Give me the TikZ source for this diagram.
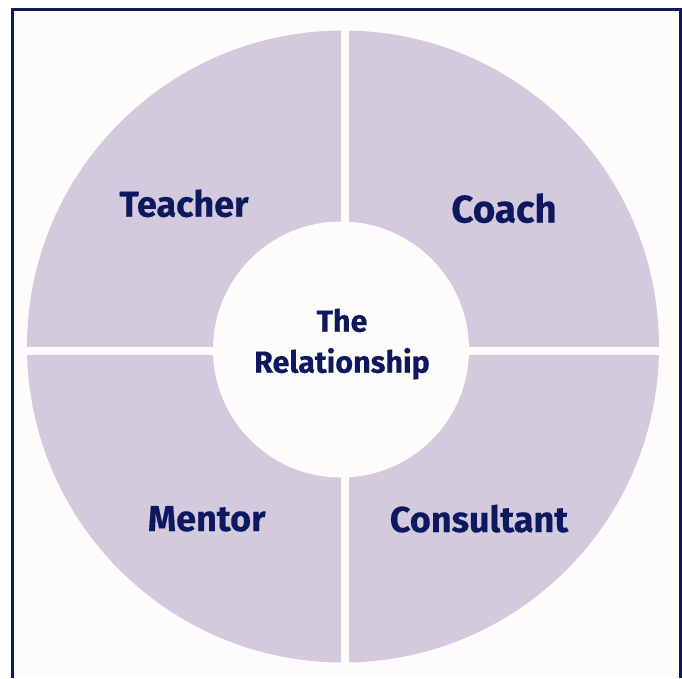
\documentclass[tikz,border=0pt]{standalone}
\usepackage{fontspec}
\setmainfont{Fira Sans}[BoldFeatures={FakeBold=0.4}]
\usepackage{tikz}

\definecolor{lilac}{RGB}{211,202,222}
\definecolor{navy}{RGB}{14,24,94}
\definecolor{paper}{RGB}{254,252,251}

\begin{document}
\begin{tikzpicture}[x=1pt,y=-1pt,
  role/.style={text=navy,anchor=base,inner sep=0pt,font=\bfseries\fontsize{36}{40}\selectfont},
  hubtext/.style={role,font=\bfseries\fontsize{30.5}{36}\selectfont}]
\useasboundingbox (0,0) rectangle (682,678);
\fill[paper] (12.5,9.5) rectangle (680.5,678);
\draw[navy,line width=3pt] (12.5,678) -- (12.5,9.5) -- (680.5,9.5) -- (680.5,678);
% ring of four quarters
\fill[lilac] (343,346.5) circle (316);
\fill[paper] (341,24) rectangle (349,670);
\fill[paper] (20,346.5) rectangle (668,354.5);
\node[circle,fill=paper,minimum size=256pt,inner sep=0pt] (hub) at (341,349.5) {};
% labels
\node[role] (teacher) at (184,216.7) {Teacher};
\node[role,font=\bfseries\fontsize{38.5}{44}\selectfont] (coach) at (504,222.5) {Coach};
\node[role] (mentor) at (206.7,531) {Mentor};
\node[role] (consultant) at (479,532) {Consultant};
\node[hubtext] (the) at (342,331.7) {The};
\node[hubtext] (relationship) at (342,372.7) {Relationship};
\end{tikzpicture}
\end{document}
